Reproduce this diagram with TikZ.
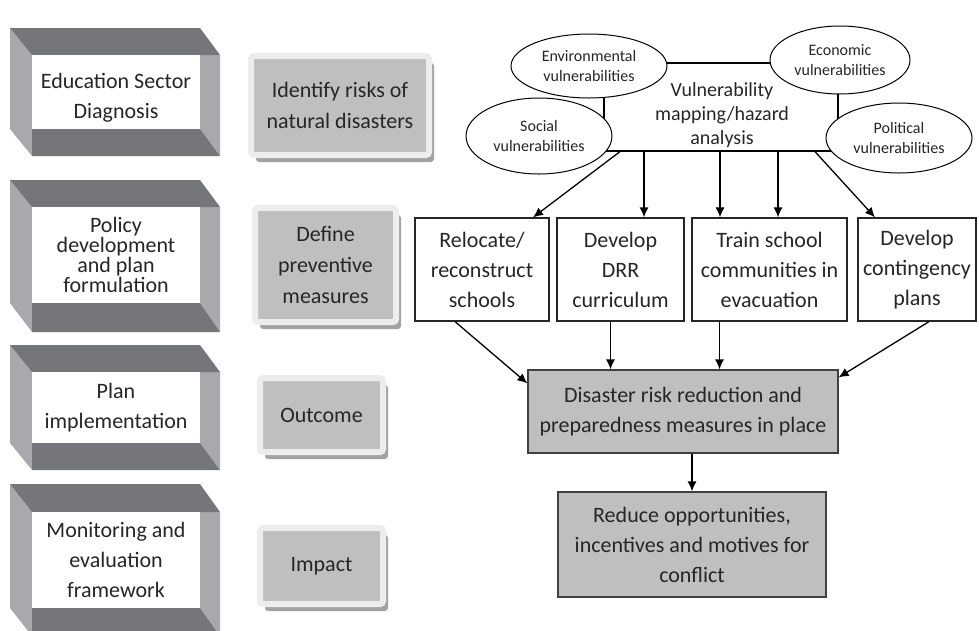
\documentclass[tikz,border=0pt]{standalone}
\usepackage{fontspec}
\setmainfont{Carlito}
\usepackage{tikz}
\usetikzlibrary{arrows.meta,calc,positioning,shapes.geometric,shadows}

\definecolor{slabdark}{HTML}{75767A}
\definecolor{slablight}{HTML}{A8A9AC}
\definecolor{boxgrey}{HTML}{BFBFBF}
\definecolor{rimgrey}{HTML}{EDEDED}
\definecolor{shadegrey}{HTML}{A3A3A3}
\definecolor{inkgrey}{HTML}{262626}

% framed stage box on the left: [node options]{name}{y0}{y1}{y2}{y3}{text}
\newcommand{\slabbox}[7][]{%
  \fill[slablight] (10,#3) -- (32,#4) -- (32,#6) -- (10,#5) -- cycle ;
  \fill[slablight] (200,#4) -- (220,#4) -- (220,#6) -- (200,#5) -- cycle ;
  \fill[slabdark] (10,#3) -- (200,#3) -- (220,#4) -- (32,#4) -- cycle ;
  \fill[slabdark] (32,#5) -- (200,#5) -- (220,#6) -- (32,#6) -- cycle ;
  \fill[white] (32,#4) rectangle (200,#5) ;
  \node[slabtext, #1] (#2) at (116,{(#4+#5)/2}) {#7} ;
}

\begin{document}
\begin{tikzpicture}[x=1pt,y=-1pt,
  >={Latex[length=10pt,width=9pt]},
  every node/.style={text=inkgrey},
  slabtext/.style={align=center,inner sep=1pt,
    font=\fontsize{22}{30}\selectfont},
  stepcard/.style={fill=boxgrey,draw=rimgrey,line width=6pt,rounded corners=3pt,
    align=center,font=\fontsize{22}{31}\selectfont,
    drop shadow={shadow xshift=5pt,shadow yshift=-7pt,fill=shadegrey,opacity=1}},
  actbox/.style={draw=black!85,line width=1.2pt,fill=white,align=center,
    inner sep=1pt,minimum height=103,font=\fontsize{22}{30}\selectfont},
  resbox/.style={draw=black!75,line width=1.2pt,fill=boxgrey,align=center,
    inner sep=1pt,font=\fontsize{22}{30}\selectfont},
  vulell/.style={draw,ellipse,fill=white,line width=1pt,align=center,
    inner sep=0pt,font=\fontsize{16}{20}\selectfont},
  link/.style={->,line width=1.3pt}]

  \useasboundingbox (0,0) rectangle (979,630) ;
%
  \slabbox[yshift=-6pt]{edu}{28}{55}{129}{156}{Education Sector\\Diagnosis}
  \slabbox[font=\fontsize{22}{20}\selectfont]{pol}{180}{207}{303}{332}{Policy\\development\\and plan\\formulation}
  \slabbox{imp}{345}{372}{443}{470}{Plan\\implementation}
  \slabbox{mon}{484}{512}{608}{636}{Monitoring and\\evaluation\\framework}
%
  \node[stepcard, minimum width=178, minimum height=99] (idr) at (340,105.5) {Identify risks of\\natural disasters} ;
  \node[stepcard, minimum width=141, minimum height=114] (dpm) at (325.5,265) {Define\\preventive\\measures} ;
  \node[stepcard, minimum width=123, minimum height=74] (outc) at (321.5,415) {Outcome} ;
  \node[stepcard, minimum width=123, minimum height=76] (impc) at (321.5,566) {Impact} ;
%
  \node[draw, line width=1.2pt, minimum width=234, minimum height=88] (vul) at (721,107) {} ;
  \node[vulell, minimum width=156, minimum height=64] (env) at (589,66) {Environmental\\vulnerabilities} ;
  \node[vulell, minimum width=140, minimum height=68] (eco) at (840,60) {Economic\\vulnerabilities} ;
  \node[vulell, minimum width=146, minimum height=76] (soc) at (539,136) {Social\\vulnerabilities} ;
  \node[vulell, minimum width=146, minimum height=70] (polv) at (899,138) {Political\\vulnerabilities} ;
  \node[align=center, font=\fontsize{20}{24}\selectfont] (vultext) at (722,115) {Vulnerability\\mapping/hazard\\analysis} ;
%
  \node[actbox, minimum width=134] (rel) at (482,269.5) {Relocate/\\reconstruct\\schools} ;
  \node[actbox, minimum width=127] (drr) at (620.5,269.5) {Develop\\DRR\\curriculum} ;
  \node[actbox, minimum width=155] (trn) at (769.5,269.5) {Train school\\communities in\\evacuation} ;
  \node[actbox, minimum width=118] (con) at (917,269.5) {Develop\\contingency\\plans} ;
%
  \node[resbox, minimum width=310, minimum height=83] (dis) at (683,411.5) {Disaster risk reduction and\\preparedness measures in place} ;
  \node[resbox, minimum width=268, minimum height=105] (red) at (692,544.5) {Reduce opportunities,\\incentives and motives for\\conflict} ;
%
  \draw [link] ([xshift=-101pt]vul.south) -- ([xshift=51pt]rel.north) ;
  \draw [link] ([xshift=23.5pt]drr.north |- vul.south) -- ([xshift=23.5pt]drr.north) ;
  \draw [link] ([xshift=-49.5pt]trn.north |- vul.south) -- ([xshift=-49.5pt]trn.north) ;
  \draw [link] ([xshift=8.5pt]trn.north |- vul.south) -- ([xshift=8.5pt]trn.north) ;
  \draw [link] ([xshift=94pt]vul.south) -- ([xshift=-42pt]con.north) ;
%
  \draw [link] ([xshift=-27pt]rel.south) -- ([yshift=-14pt]dis.north west) ;
  \draw [link] ([xshift=-10pt]drr.south) -- ([xshift=-10pt]drr.south |- dis.north) ;
  \draw [link] ([xshift=-50pt]trn.south) -- ([xshift=-50pt]trn.south |- dis.north) ;
  \draw [link] ([xshift=12pt]con.south) -- ([yshift=-8pt]dis.north east) ;
%
  \draw [link] (dis.south -| red.north) -- (red.north) ;

\end{tikzpicture}
\end{document}
